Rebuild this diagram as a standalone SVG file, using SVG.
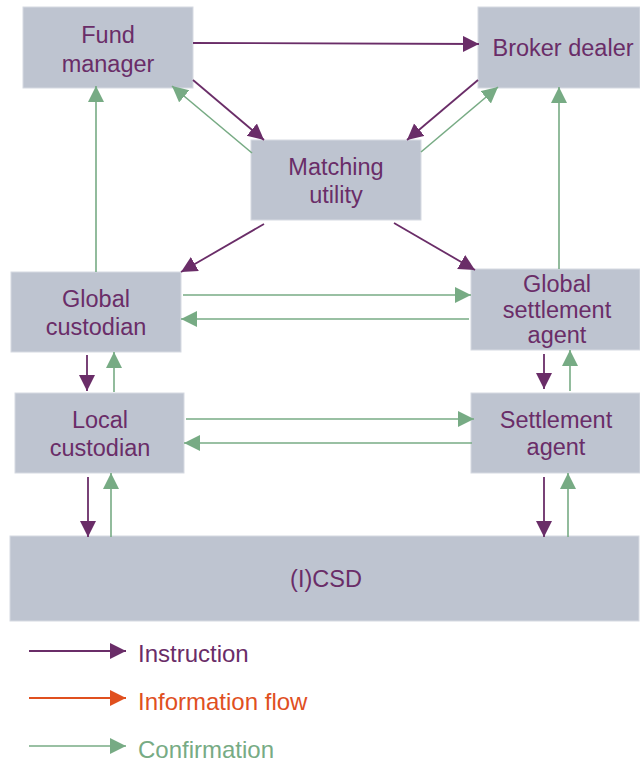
<svg xmlns="http://www.w3.org/2000/svg" width="640" height="762" viewBox="0 0 640 762">
<style>
.box{fill:#bec4d0;stroke:#d6dae2;stroke-width:1}
.t{font-family:"Liberation Sans",Arial,sans-serif;font-size:23.5px;fill:#6a2d68;text-anchor:middle}
.lt{font-family:"Liberation Sans",Arial,sans-serif;font-size:24px;text-anchor:start}
.ins{stroke:#6a2d68;stroke-width:1.8;fill:none}
.con{stroke:#77ab84;stroke-width:1.6;fill:none}
.inf{stroke:#e0501f;stroke-width:1.8;fill:none}
</style>
<defs>
<marker id="aP" markerUnits="userSpaceOnUse" markerWidth="17" markerHeight="17" refX="16" refY="8" orient="auto"><path d="M0,0 L16,8 L0,16 z" fill="#6a2d68"/></marker>
<marker id="aG" markerUnits="userSpaceOnUse" markerWidth="17" markerHeight="17" refX="16" refY="8" orient="auto"><path d="M0,0 L16,8 L0,16 z" fill="#77ab84"/></marker>
<marker id="aO" markerUnits="userSpaceOnUse" markerWidth="17" markerHeight="17" refX="16" refY="8" orient="auto"><path d="M0,0 L16,8 L0,16 z" fill="#e0501f"/></marker>
</defs>
<rect width="640" height="762" fill="#ffffff"/>
<g id="fund-manager"><rect class="box" x="23" y="7" width="170" height="81"/><text class="t" x="108" y="43">Fund</text><text class="t" x="108" y="72">manager</text></g>
<g id="broker-dealer"><rect class="box" x="478" y="7" width="162" height="81"/><text class="t" x="563" y="56">Broker dealer</text></g>
<g id="matching-utility"><rect class="box" x="251" y="140" width="170" height="80"/><text class="t" x="336" y="175">Matching</text><text class="t" x="336" y="203">utility</text></g>
<g id="global-custodian"><rect class="box" x="11" y="272" width="170" height="80"/><text class="t" x="96" y="307">Global</text><text class="t" x="96" y="335">custodian</text></g>
<g id="local-custodian"><rect class="box" x="15" y="393" width="169" height="80"/><text class="t" x="100" y="428">Local</text><text class="t" x="100" y="456">custodian</text></g>
<g id="global-settlement-agent"><rect class="box" x="471" y="269" width="169" height="81"/><text class="t" x="557" y="292">Global</text><text class="t" x="557" y="318">settlement</text><text class="t" x="557" y="343">agent</text></g>
<g id="settlement-agent"><rect class="box" x="471" y="393" width="169" height="80"/><text class="t" x="556" y="428">Settlement</text><text class="t" x="556" y="455">agent</text></g>
<g id="icsd"><rect class="box" x="10" y="536" width="629" height="85"/><text class="t" x="326" y="587">(I)CSD</text></g>
<g id="connectors">
<line class="ins" x1="193" y1="43" x2="479" y2="44" marker-end="url(#aP)"/>
<line class="ins" x1="193" y1="80" x2="264" y2="140" marker-end="url(#aP)"/>
<line class="con" x1="252" y1="153" x2="172" y2="86" marker-end="url(#aG)"/>
<line class="ins" x1="478" y1="80" x2="407" y2="140" marker-end="url(#aP)"/>
<line class="con" x1="421" y1="152" x2="498" y2="87" marker-end="url(#aG)"/>
<line class="con" x1="96" y1="272" x2="96" y2="86" marker-end="url(#aG)"/>
<line class="con" x1="559" y1="269" x2="559" y2="87" marker-end="url(#aG)"/>
<line class="ins" x1="264" y1="224" x2="181" y2="272" marker-end="url(#aP)"/>
<line class="ins" x1="394" y1="223" x2="475" y2="270" marker-end="url(#aP)"/>
<line class="con" x1="183" y1="295" x2="471" y2="295" marker-end="url(#aG)"/>
<line class="con" x1="469" y1="319" x2="181" y2="319" marker-end="url(#aG)"/>
<line class="ins" x1="87" y1="355" x2="87" y2="391" marker-end="url(#aP)"/>
<line class="con" x1="114" y1="392" x2="114" y2="352" marker-end="url(#aG)"/>
<line class="con" x1="186" y1="419" x2="474" y2="419" marker-end="url(#aG)"/>
<line class="con" x1="472" y1="443" x2="184" y2="443" marker-end="url(#aG)"/>
<line class="ins" x1="88" y1="477" x2="88" y2="537" marker-end="url(#aP)"/>
<line class="con" x1="111" y1="537" x2="111" y2="473" marker-end="url(#aG)"/>
<line class="ins" x1="544" y1="354" x2="544" y2="389" marker-end="url(#aP)"/>
<line class="con" x1="570" y1="391" x2="570" y2="350" marker-end="url(#aG)"/>
<line class="ins" x1="544" y1="477" x2="544" y2="537" marker-end="url(#aP)"/>
<line class="con" x1="568" y1="537" x2="568" y2="473" marker-end="url(#aG)"/>
</g>
<g id="legend">
<line class="ins" x1="29" y1="651" x2="126" y2="651" marker-end="url(#aP)"/>
<text class="lt" x="138" y="662" fill="#6a2d68">Instruction</text>
<line class="inf" x1="29" y1="698" x2="126" y2="698" marker-end="url(#aO)"/>
<text class="lt" x="138" y="710" fill="#e0501f">Information flow</text>
<line class="con" x1="29" y1="746" x2="126" y2="746" marker-end="url(#aG)"/>
<text class="lt" x="138" y="758" fill="#77ab84">Confirmation</text>
</g>
</svg>
